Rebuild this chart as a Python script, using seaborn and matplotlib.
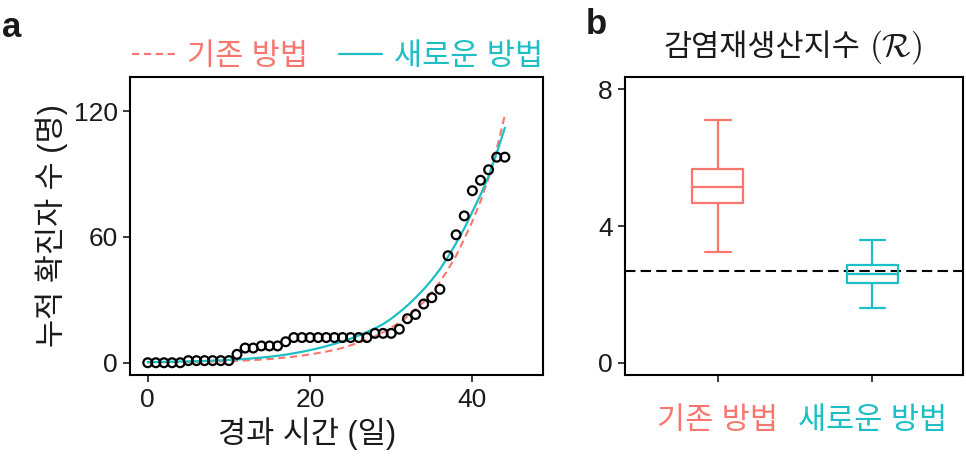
import pandas as pd
import seaborn as sns
import matplotlib.pyplot as plt
from matplotlib.lines import Line2D

# panel a: daily cumulative cases and the two fitted curves
days = list(range(45))
cases = [0, 0, 0, 0, 0, 1, 1, 1, 1, 1, 1, 4, 7, 7, 8, 8, 8, 10, 12, 12,
         12, 12, 12, 12, 12, 12, 12, 12, 14, 14, 14, 16, 21, 23, 28, 31, 35, 51,
         61, 70, 82, 87, 92, 98, 98]
fit_old = [0.15, 0.2, 0.22, 0.25, 0.3, 0.35, 0.4, 0.45, 0.55, 0.65, 0.75, 0.9,
           1.05, 1.25, 1.5, 1.75, 2.1, 2.5, 2.9, 3.4, 4.0, 4.6, 5.3, 6.1, 7.1,
           8.3, 9.6, 11.0, 12.6, 14.5, 16.7, 19.2, 22.0, 25.3, 29.0, 33.5, 38.5,
           44.5, 51.0, 59.0, 67.5, 77.0, 88.0, 102.0, 118.0]
fit_new = [0.3, 0.35, 0.4, 0.5, 0.55, 0.65, 0.75, 0.85, 1.0, 1.15, 1.3, 1.55,
           1.8, 2.1, 2.45, 2.85, 3.3, 3.85, 4.5, 5.2, 6.0, 6.9, 7.9, 9.0, 10.2,
           11.5, 13.0, 14.6, 16.4, 18.4, 21.0, 24.0, 27.3, 31.0, 35.0, 39.5,
           44.5, 50.5, 57.0, 64.0, 72.0, 80.0, 89.0, 100.0, 112.0]

# panel b: reproduction number summaries (min, q1, median, q3, max)
methods = ['기존 방법', '새로운 방법']
r_old = [3.24, 4.68, 5.13, 5.67, 7.10]
r_new = [1.60, 2.32, 2.59, 2.85, 3.59]
r_line = 2.69

red = '#F8766D'
cyan = '#1DBFC4'
txt = '#1a1a1a'
ko = 22  # hangul text comes out a bit bigger than the digits

sns.set_style('ticks')
plt.rcParams['font.family'] = ['Liberation Sans', 'Noto Sans CJK KR', 'DejaVu Sans']
plt.rcParams['font.size'] = 19
plt.rcParams['axes.linewidth'] = 1.5
plt.rcParams['xtick.major.width'] = 1.2
plt.rcParams['ytick.major.width'] = 1.2
plt.rcParams['xtick.major.size'] = 5
plt.rcParams['ytick.major.size'] = 5
plt.rcParams['xtick.major.pad'] = 4
plt.rcParams['ytick.major.pad'] = 4

fig = plt.figure(figsize=(9.66, 4.57), dpi=100)
ax1 = fig.add_axes([0.1346, 0.1794, 0.4275, 0.652])
ax2 = fig.add_axes([0.647, 0.1794, 0.35, 0.652])

df = pd.DataFrame({'day': days, 'cases': cases, 'old': fit_old, 'new': fit_new})

sns.lineplot(data=df, x='day', y='old', color=red, lw=1.5,
             linestyle=(0, (3.5, 2.2)), ax=ax1, zorder=2)
sns.lineplot(data=df, x='day', y='new', color=cyan, lw=1.6, ax=ax1, zorder=3)
sns.scatterplot(data=df, x='day', y='cases', s=40, facecolor='none',
                edgecolor='black', linewidth=1.6, ax=ax1, zorder=4)

ax1.set_xlim(-2.18, 48.7)
ax1.set_ylim(-5.86, 136.2)
ax1.set_xticks([0, 20, 40])
ax1.set_yticks([0, 60, 120])
ax1.set_xlabel('경과 시간 (일)', color=txt, labelpad=4, fontsize=ko)
ax1.set_ylabel('누적 확진자 수 (명)', color=txt, labelpad=4, fontsize=ko)
ax1.xaxis.label.set_x(0.429)  # label sits a bit left of centre in the original
ax1.tick_params(colors=txt, labelcolor=txt)
for s in ax1.spines.values():
    s.set_visible(True)
    s.set_color('black')

handles = [Line2D([], [], color=red, lw=1.5, linestyle=(0, (3.5, 2.2))),
           Line2D([], [], color=cyan, lw=1.6)]
fig.legend(handles, methods, loc='center right', bbox_to_anchor=(543 / 966, 1 - 57 / 457),
           ncol=2, frameon=False, labelcolor=[red, cyan], handlelength=1.4,
           handletextpad=0.4, columnspacing=1.0, borderpad=0, borderaxespad=0,
           fontsize=ko)

# box data
bdf = pd.DataFrame({'method': [methods[0]] * 5 + [methods[1]] * 5,
                    'R': r_old + r_new})
sns.boxplot(data=bdf, x='method', y='R', hue='method', palette=[red, cyan],
            fill=False, width=0.33, linewidth=1.6, whis=1.5, showfliers=False,
            legend=False, ax=ax2)
ax2.axhline(r_line, color='black', lw=1.5, linestyle=(0, (5, 2.5)), zorder=1)

ax2.set_xlim(-0.6, 1.587)
ax2.set_ylim(-0.36, 8.36)
ax2.set_yticks([0, 4, 8])
ax2.set_xlabel('')
ax2.set_ylabel('')
ax2.tick_params(colors=txt, labelcolor=txt)
ax2.tick_params(axis='x', pad=17, labelsize=ko)
for lab, c in zip(ax2.get_xticklabels(), [red, cyan]):
    lab.set_color(c)
for s in ax2.spines.values():
    s.set_visible(True)
    s.set_color('black')

# title of panel b in two pieces so the script R can use a math font
fig.text(860 / 966, 1 - 56 / 457, '감염재생산지수', fontsize=ko, color=txt,
         ha='right', va='baseline')
fig.text(869 / 966, 1 - 56 / 457, r'$(\mathcal{R})$', fontsize=24, color=txt,
         ha='left', va='baseline', math_fontfamily='cm')

fig.text(0.002, 1 - 37 / 457, 'a', fontsize=25, fontweight='bold', va='baseline', color=txt)
fig.text(586 / 966, 1 - 34 / 457, 'b', fontsize=25, fontweight='bold', va='baseline', color=txt)

fig.savefig('out.png', dpi=100)
